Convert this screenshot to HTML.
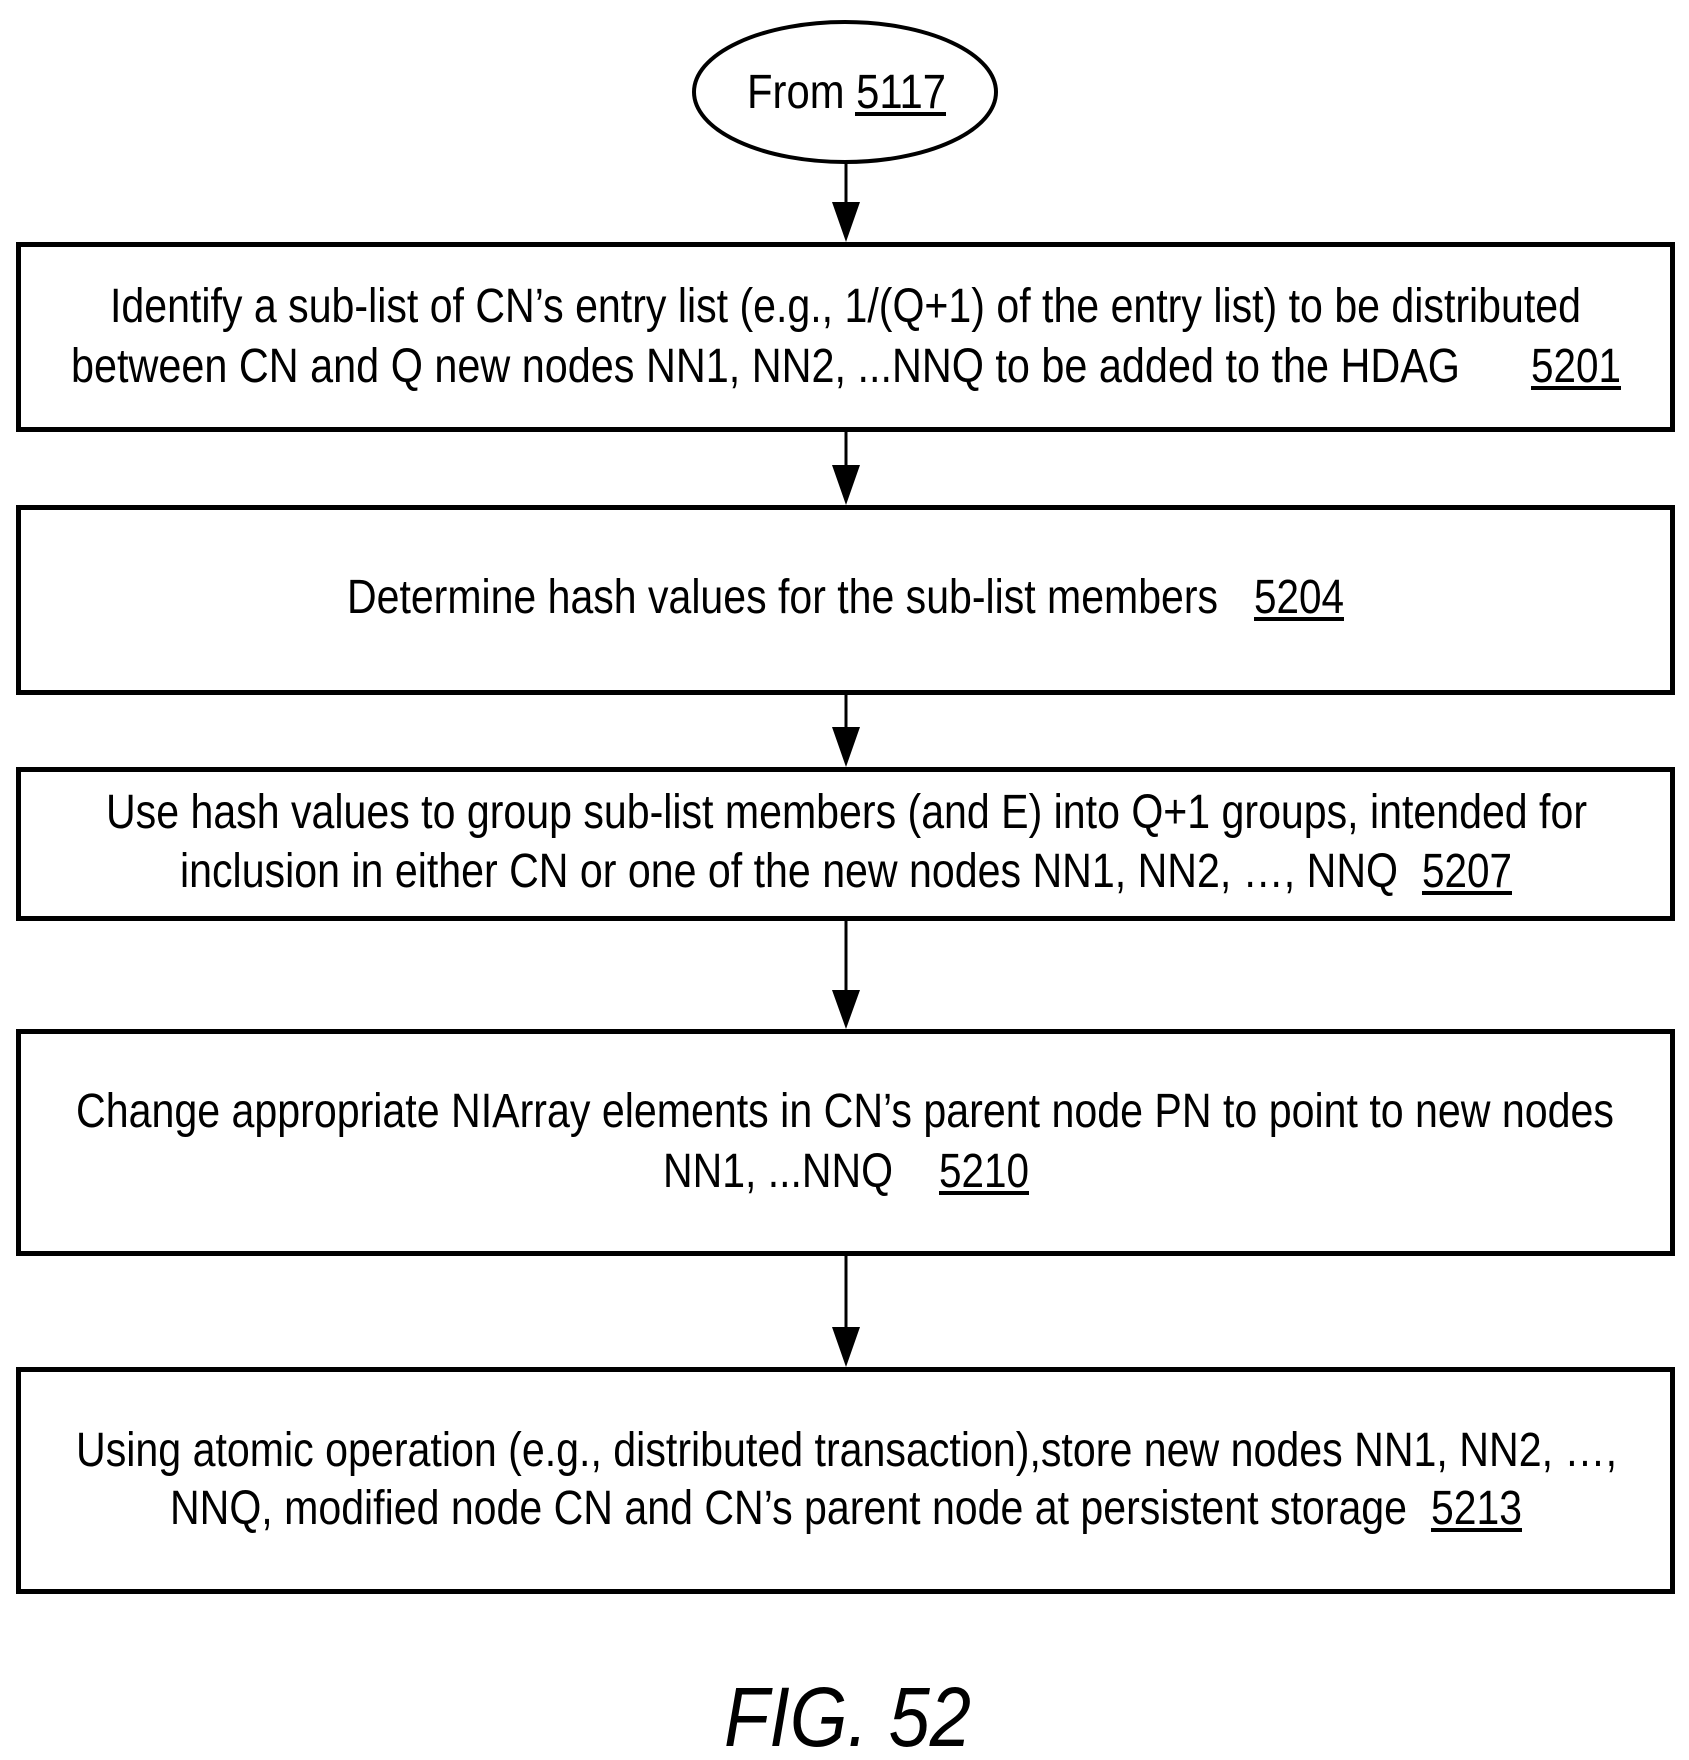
<!DOCTYPE html>
<html><head><meta charset="utf-8"><style>html,body{margin:0;padding:0;background:#fff}svg{display:block}</style></head>
<body>
<svg width="1689" height="1760" viewBox="0 0 1689 1760" xmlns="http://www.w3.org/2000/svg" font-family="'Liberation Sans', Arial, sans-serif" font-size="48" fill="#000">
<defs><marker id="a" markerWidth="28" markerHeight="40" refX="14" refY="40" orient="auto-start-reverse" markerUnits="userSpaceOnUse"><path d="M0,0 L28,0 L14,40 Z" fill="#000"/></marker></defs>
<g stroke="#000" stroke-width="4" fill="none">
<ellipse cx="845" cy="92" rx="151" ry="70"/>
</g>
<g stroke="#000" stroke-width="5" fill="none">
<rect x="18.5" y="244.5" width="1654" height="185"/>
<rect x="18.5" y="507.5" width="1654" height="185"/>
<rect x="18.5" y="769.5" width="1654" height="149"/>
<rect x="18.5" y="1031.5" width="1654" height="222"/>
<rect x="18.5" y="1369.5" width="1654" height="222"/>
</g>
<g stroke="#000" stroke-width="3">
<line x1="846" y1="162" x2="846" y2="202"/><path d="M832,202 L860,202 L846,242 Z" stroke="none"/>
<line x1="846" y1="432" x2="846" y2="465"/><path d="M832,465 L860,465 L846,505 Z" stroke="none"/>
<line x1="846" y1="695" x2="846" y2="727"/><path d="M832,727 L860,727 L846,767 Z" stroke="none"/>
<line x1="846" y1="921" x2="846" y2="990"/><path d="M832,990 L860,990 L846,1029 Z" stroke="none"/>
<line x1="846" y1="1256" x2="846" y2="1327"/><path d="M832,1327 L860,1327 L846,1367 Z" stroke="none"/>
</g>
<g>
<text x="747" y="108" textLength="199" lengthAdjust="spacingAndGlyphs">From 5117</text>
<rect x="855" y="112" width="91" height="4"/>

<text x="110" y="322" textLength="1471" lengthAdjust="spacingAndGlyphs">Identify a sub-list of CN’s entry list (e.g., 1/(Q+1) of the entry list) to be distributed</text>
<text x="71" y="382" textLength="1389" lengthAdjust="spacingAndGlyphs">between CN and Q new nodes NN1, NN2, ...NNQ  to be added to the HDAG</text>
<text x="1531" y="382" textLength="90" lengthAdjust="spacingAndGlyphs">5201</text>
<rect x="1531" y="386" width="90" height="4"/>

<text x="347" y="613" textLength="871" lengthAdjust="spacingAndGlyphs">Determine hash values for the sub-list members</text>
<text x="1254" y="613" textLength="90" lengthAdjust="spacingAndGlyphs">5204</text>
<rect x="1254" y="617" width="90" height="4"/>

<text x="106" y="828" textLength="1481" lengthAdjust="spacingAndGlyphs">Use hash values to group sub-list members (and E) into Q+1 groups, intended for</text>
<text x="180" y="887" textLength="1218" lengthAdjust="spacingAndGlyphs">inclusion in either CN or one of the new nodes NN1, NN2, …, NNQ</text>
<text x="1422" y="887" textLength="90" lengthAdjust="spacingAndGlyphs">5207</text>
<rect x="1422" y="891" width="90" height="4"/>

<text x="76" y="1127" textLength="1538" lengthAdjust="spacingAndGlyphs">Change appropriate NIArray elements in CN’s parent node PN to point to new nodes</text>
<text x="663" y="1187" textLength="230" lengthAdjust="spacingAndGlyphs">NN1, ...NNQ</text>
<text x="939" y="1187" textLength="90" lengthAdjust="spacingAndGlyphs">5210</text>
<rect x="939" y="1191" width="90" height="4"/>

<text x="76" y="1466" textLength="1541" lengthAdjust="spacingAndGlyphs">Using atomic operation (e.g., distributed transaction),store new nodes NN1, NN2, …,</text>
<text x="170" y="1524" textLength="1237" lengthAdjust="spacingAndGlyphs">NNQ, modified node CN and CN’s parent node at persistent storage</text>
<text x="1431" y="1524" textLength="91" lengthAdjust="spacingAndGlyphs">5213</text>
<rect x="1431" y="1528" width="91" height="4"/>

<text x="724" y="1746" font-size="84" font-style="italic" textLength="247" lengthAdjust="spacingAndGlyphs">FIG. 52</text>
</g>
</svg>
</body></html>
